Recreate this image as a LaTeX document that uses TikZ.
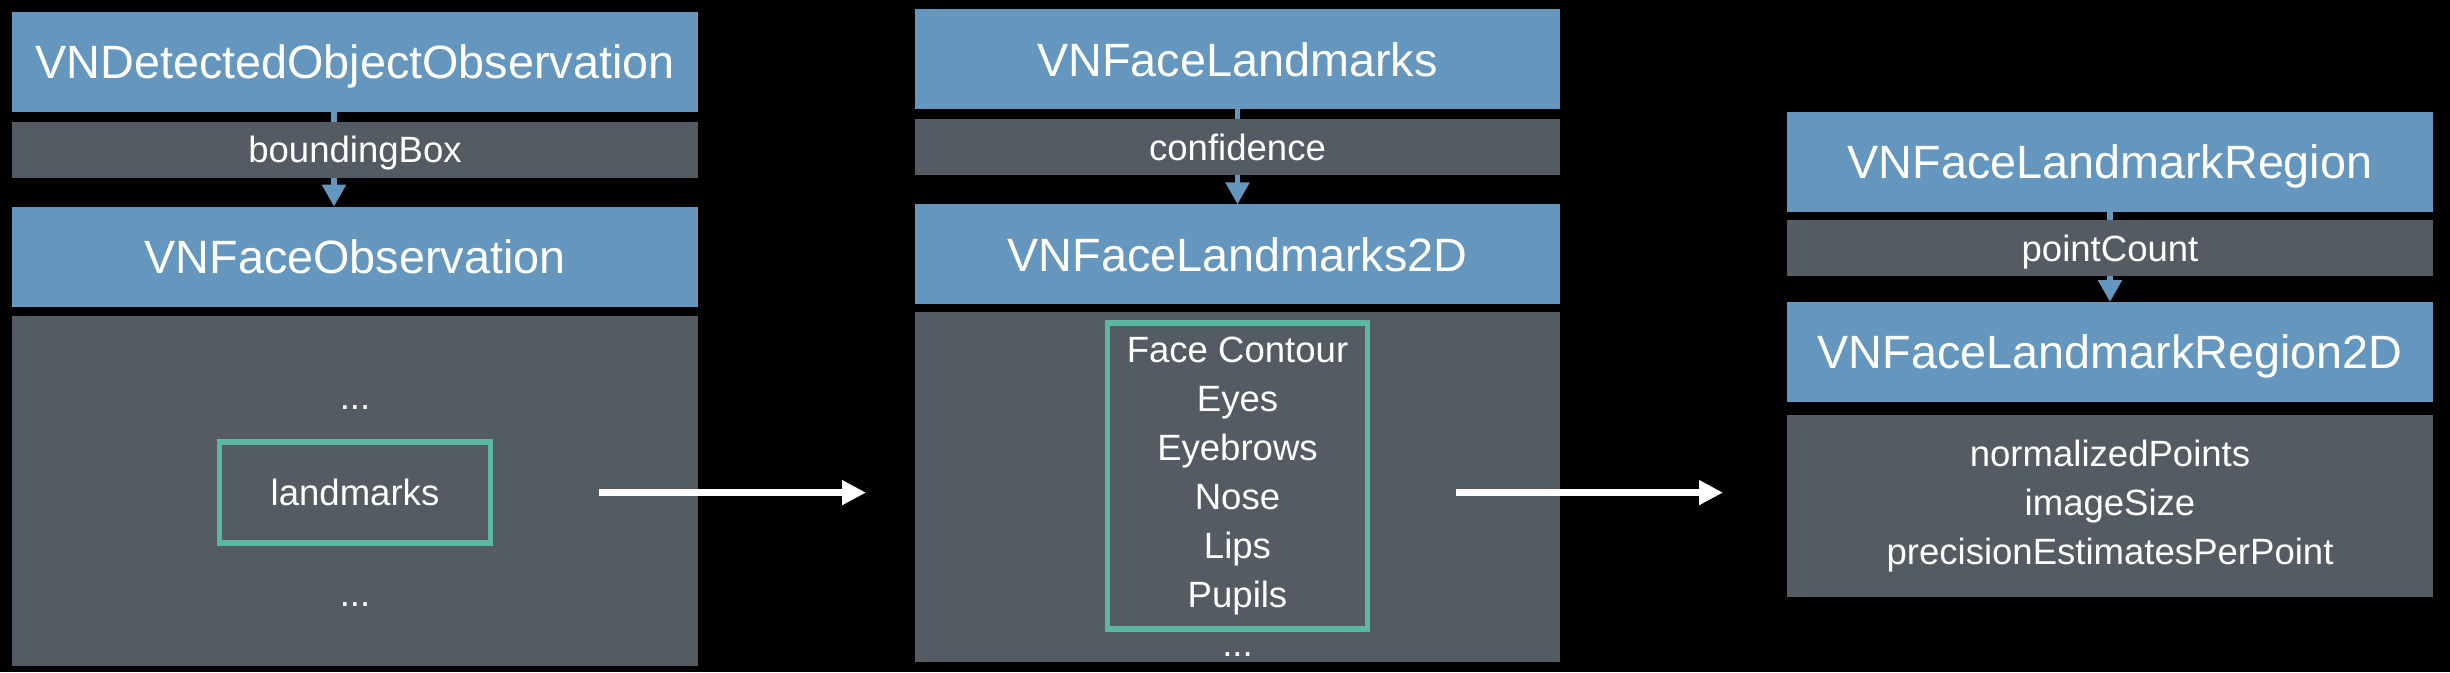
\documentclass[tikz,border=0pt]{standalone}
\usepackage{fontspec}
\setmainfont{Liberation Sans}
\usetikzlibrary{positioning, arrows.meta}

\definecolor{vnblue}{RGB}{100,150,190}
\definecolor{vngray}{RGB}{84,91,98}
\definecolor{vngreen}{RGB}{90,185,160}

\newcommand{\titlefont}{\fontsize{26.6}{30}\selectfont}
\newcommand{\propfont}{\fontsize{20.8}{27.9}\selectfont}

\tikzset{
  cls/.style={fill=vnblue, text=white, font=\titlefont, minimum height=2cm,
    inner sep=0pt, outer sep=0pt, text height=19pt, text depth=0pt},
  prop/.style={fill=vngray, text=white, font=\propfont, minimum height=1.12cm,
    inner sep=0pt, outer sep=0pt, text height=14.9pt, text depth=0pt},
  body/.style={fill=vngray, text=white, font=\propfont, inner sep=0pt,
    outer sep=0pt, align=center},
  pick/.style={draw=vngreen, line width=3.1pt, text=white, font=\propfont,
    inner sep=0pt, align=center},
  dots/.style={text=white, font=\propfont, inner sep=0pt},
  link/.style={vnblue, line width=3.1pt, -{Triangle[length=0.44cm, width=0.46cm]}},
  flow/.style={white, line width=4pt, -{Triangle[length=0.48cm, width=0.47cm]}},
}

\begin{document}
\begin{tikzpicture}
  \path[use as bounding box, fill=black] (0,0) rectangle (49,-13.44);

  % observation
  \node[cls, minimum width=13.72cm, anchor=north west] (obs) at (0.24,-0.232) {VNDetectedObjectObservation};
  \node[cls, minimum width=13.72cm, below=1.9cm of obs] (face) {VNFaceObservation};
  \draw[link] ([xshift=-0.42cm]obs.south) -- ([xshift=-0.42cm]face.north);
  \node[prop, minimum width=13.72cm, below=0.2cm of obs] (bbox) {boundingBox};
  \node[body, minimum width=13.72cm, minimum height=7cm, below=0.18cm of face] (faceBody) {};
  \node[pick, minimum width=5.43cm, minimum height=2.02cm, text height=14.9pt, text depth=0pt] (lm)
    at ([yshift=-0.04cm]faceBody.center) {landmarks};
  \node[dots, above=0.6cm of lm] (dotsA) {...};
  \node[dots, below=1.12cm of lm] (dotsB) {...};

  % landmarks
  \node[cls, minimum width=12.9cm, anchor=north west] (lmk) at (18.3,-0.188) {VNFaceLandmarks};
  \node[cls, minimum width=12.9cm, below=1.9cm of lmk] (lmk2d) {VNFaceLandmarks2D};
  \draw[link] (lmk.south) -- (lmk2d.north);
  \node[prop, minimum width=12.9cm, below=0.2cm of lmk] (conf) {confidence};
  \node[body, minimum width=12.9cm, minimum height=7cm, below=0.16cm of lmk2d] (lmkBody) {};
  \node[pick, minimum width=5.19cm, minimum height=6.12cm, below=0.16cm of lmkBody.north] (parts)
    {Face Contour\\Eyes\\Eyebrows\\Nose\\Lips\\Pupils};
  \node[dots, below=0.4cm of parts] (dotsC) {...};

  % region
  \node[cls, minimum width=12.92cm, anchor=north west] (region) at (35.74,-2.24) {VNFaceLandmarkRegion};
  \node[cls, minimum width=12.92cm, below=1.8cm of region] (region2d) {VNFaceLandmarkRegion2D};
  \draw[link] (region.south) -- (region2d.north);
  \node[prop, minimum width=12.92cm, below=0.16cm of region] (count) {pointCount};
  \node[body, minimum width=12.92cm, minimum height=3.65cm, below=0.25cm of region2d] (regionBody)
    {normalizedPoints\\imageSize\\precisionEstimatesPerPoint};

  % hand over
  \coordinate (flowA) at (lm.east);
  \coordinate (flowB) at (lm -| lmkBody.west);
  \coordinate (flowC) at (lm -| parts.east);
  \coordinate (flowD) at (lm -| regionBody.west);
  \draw[flow] ([xshift=2.12cm]flowA) -- ([xshift=-0.98cm]flowB);
  \draw[flow] ([xshift=1.72cm]flowC) -- ([xshift=-1.28cm]flowD);
\end{tikzpicture}
\end{document}
